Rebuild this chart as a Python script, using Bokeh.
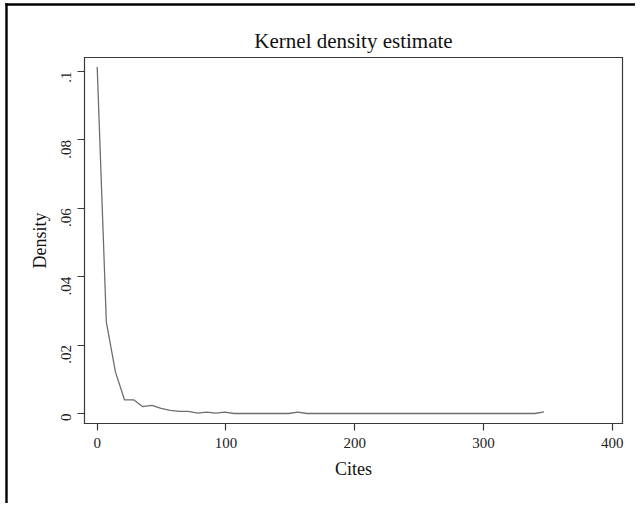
import math
from bokeh.plotting import figure
from bokeh.models import FixedTicker, Range1d, LinearAxis
from bokeh.embed import file_html
from bokeh.resources import INLINE

# Kernel density estimate of Cites
cites = [0.0, 7.1, 14.2, 21.2, 28.3, 35.4, 42.5, 49.6, 56.7, 63.7,
         70.8, 77.9, 85.0, 92.1, 99.1, 106.2, 113.3, 120.4, 127.5, 134.6,
         141.6, 148.7, 155.8, 162.9, 170.0, 177.0, 184.1, 191.2, 198.3, 205.4,
         212.4, 219.5, 226.6, 233.7, 240.8, 247.9, 254.9, 262.0, 269.1, 276.2,
         283.3, 290.3, 297.4, 304.5, 311.6, 318.7, 325.7, 332.8, 339.9, 347.0]
density = [0.1013, 0.0267, 0.0121, 0.0040, 0.0040, 0.0020, 0.0024, 0.0015, 0.0009, 0.0006,
           0.0006, 0.0001, 0.0004, 0.0001, 0.0004, 0.0000, 0.0000, 0.0000, 0.0000, 0.0000,
           0.0000, 0.0000, 0.0004, 0.0000, 0.0000, 0.0000, 0.0000, 0.0000, 0.0000, 0.0000,
           0.0000, 0.0000, 0.0000, 0.0000, 0.0000, 0.0000, 0.0000, 0.0000, 0.0000, 0.0000,
           0.0000, 0.0000, 0.0000, 0.0000, 0.0000, 0.0000, 0.0000, 0.0000, 0.0000, 0.0005]

x_ticks = [0, 100, 200, 300, 400]
y_ticks = [0, 0.02, 0.04, 0.06, 0.08, 0.1]
y_tick_labels = ["0", ".02", ".04", ".06", ".08", ".1"]

title_text = "Kernel density estimate"
x_title = "Cites"
y_title = "Density"

FONT = "Liberation Serif"
W, H = 635, 503

# pixel calibration of the canvas (the frame fills the whole canvas)
PX_X0, PX_PER_X = 96.7, 1.2875      # pixel of x=0, pixels per unit x
PX_Y0, PX_PER_Y = 413.0, 3420.0     # pixel of y=0, pixels per unit y


def dx(px):
    return (px - PX_X0) / PX_PER_X


def dy(py):
    return (PX_Y0 - py) / PX_PER_Y


# plot box and outer graph-region edges, in pixels
BOX_L, BOX_R, BOX_T, BOX_B = 83.7, 621.7, 57.3, 423.3
OUT_L, OUT_T = 6.0, 4.3

p = figure(width=W, height=H, output_backend="svg", toolbar_location=None,
           x_range=Range1d(dx(0), dx(W)), y_range=Range1d(dy(H), dy(0)),
           x_axis_location=None, y_axis_location=None, title=None,
           min_border=0, min_border_left=0, min_border_right=0,
           min_border_top=0, min_border_bottom=0)
p.grid.visible = False
p.outline_line_color = None
p.background_fill_color = "white"
p.border_fill_color = "white"

p.line(cites, density, line_color="#6e6e6e", line_width=1.3)

BOX_COLOR = "#3a3a3a"


def style_common(ax, color=BOX_COLOR, width=1.2):
    ax.axis_line_color = color
    ax.axis_line_width = width
    ax.axis_line_cap = "square"
    ax.major_tick_line_color = BOX_COLOR
    ax.major_tick_line_width = 1.2
    ax.major_tick_in = 0
    ax.major_tick_out = 7
    ax.minor_tick_line_color = None
    ax.minor_tick_in = 0
    ax.minor_tick_out = 0
    ax.major_label_text_font = FONT
    ax.major_label_text_font_size = "15px"
    ax.major_label_text_color = "#222222"
    ax.axis_label_text_font = FONT
    ax.axis_label_text_font_size = "18px"
    ax.axis_label_text_font_style = "normal"
    ax.axis_label_text_color = "#111111"


def bare(ax, color=BOX_COLOR, width=1.2):
    style_common(ax, color, width)
    ax.major_tick_out = 0
    ax.major_tick_line_color = None
    ax.major_label_standoff = 0


# x axis along the bottom of the plot box
xax = LinearAxis(fixed_location=dy(BOX_B), bounds=(dx(BOX_L), dx(BOX_R)),
                 ticker=FixedTicker(ticks=x_ticks), axis_label=x_title)
style_common(xax)
xax.major_label_standoff = 7
xax.axis_label_standoff = 8
p.add_layout(xax, "below")

# y axis along the left of the plot box
yax = LinearAxis(fixed_location=dx(BOX_L), bounds=(dy(BOX_B), dy(BOX_T)),
                 ticker=FixedTicker(ticks=y_ticks), axis_label=y_title)
style_common(yax)
yax.major_label_overrides = {t: l for t, l in zip(y_ticks, y_tick_labels)}
yax.major_label_orientation = math.pi / 2
yax.major_label_standoff = 11
yax.axis_label_standoff = 4
p.add_layout(yax, "left")

# top edge of the plot box, carrying the title
tax = LinearAxis(fixed_location=dy(BOX_T), bounds=(dx(BOX_L), dx(BOX_R)),
                 ticker=FixedTicker(ticks=[]), axis_label=title_text)
bare(tax)
tax.axis_label_text_font_size = "21px"
tax.axis_label_standoff = 5
p.add_layout(tax, "above")

# right edge of the plot box
rax = LinearAxis(fixed_location=dx(BOX_R), bounds=(dy(BOX_B), dy(BOX_T)),
                 ticker=FixedTicker(ticks=[]))
bare(rax)
p.add_layout(rax, "right")

# outer graph-region frame (only its left and top edges fall inside the picture)
oax_l = LinearAxis(fixed_location=dx(OUT_L), bounds=(dy(H), dy(OUT_T)),
                   ticker=FixedTicker(ticks=[]))
bare(oax_l, "black", 2.4)
p.add_layout(oax_l, "left")

oax_t = LinearAxis(fixed_location=dy(OUT_T), bounds=(dx(OUT_L), dx(W)),
                   ticker=FixedTicker(ticks=[]))
bare(oax_t, "black", 2.4)
p.add_layout(oax_t, "above")

open("out.html", "w").write(file_html(p, INLINE))
